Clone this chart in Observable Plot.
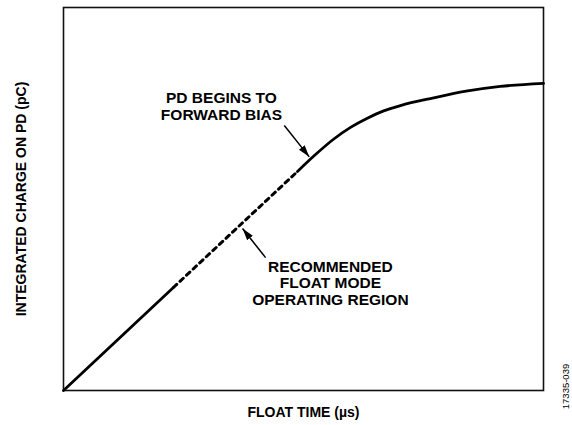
<!DOCTYPE html>
<html>
<head>
<meta charset="utf-8">
<script src="https://cdn.jsdelivr.net/npm/d3@7"></script>
<script src="https://cdn.jsdelivr.net/npm/@observablehq/plot@0.6"></script>
<style>
  body { margin: 0; background: #fff; }
  #chart svg { display: block; }
</style>
</head>
<body>
<div id="chart"></div>
<script>
// ---- data (arbitrary units, 0–100 on both axes; the chart has no tick values) ----
const floatTimeSolidLow = [0, 22.9];
const chargeSolidLow    = [0, 26.9];

const floatTimeDotted = [22.9, 48.75];
const chargeDotted    = [26.9, 57.2];

const floatTimeCurve = [48.75, 52.5, 56.25, 59.8, 63.3, 66.7, 70.2, 77.1, 84.2, 91.0, 100];
const chargeCurve    = [57.2, 61.6, 65.6, 68.7, 71.1, 73.0, 74.4, 76.4, 78.2, 79.4, 80.2];

const annotationText = ["PD BEGINS TO\nFORWARD BIAS", "RECOMMENDED\nFLOAT MODE\nOPERATING REGION"];
const annotationX    = [32.9, 55.6];
const annotationY    = [74.2, 28.1];

const arrowFromX = [46.0, 42.1];
const arrowFromY = [69.2, 34.7];
const arrowToX   = [51.2, 37.3];
const arrowToY   = [61.0, 42.3];

const xLabel = "FLOAT TIME (µs)";
const yLabel = "INTEGRATED CHARGE ON PD (pC)";
const figureId = "17335-039";

// ---- tables built from the arrays ----
const zipXY = (xs, ys) => xs.map((x, i) => ({x, y: ys[i]}));
const solidLow = zipXY(floatTimeSolidLow, chargeSolidLow);
const dotted = zipXY(floatTimeDotted, chargeDotted);
const curve = zipXY(floatTimeCurve, chargeCurve);
const annotations = annotationText.map((t, i) => ({t, x: annotationX[i], y: annotationY[i]}));
const arrows = arrowFromX.map((_, i) => ({x1: arrowFromX[i], y1: arrowFromY[i], x2: arrowToX[i], y2: arrowToY[i]}));

const font = "'Liberation Sans', Arial, Helvetica, sans-serif";

const chart = Plot.plot({
  width: 572,
  height: 425,
  marginLeft: 63,
  marginRight: 29,
  marginTop: 7,
  marginBottom: 35,
  style: {fontFamily: font, background: "#fff", color: "#000"},
  x: {domain: [0, 100], axis: null},
  y: {domain: [0, 100], axis: null},
  marks: [
    Plot.frame({stroke: "#111", strokeWidth: 1.6}),
    Plot.line(solidLow, {x: "x", y: "y", stroke: "#000", strokeWidth: 2.8}),
    Plot.line(dotted, {x: "x", y: "y", stroke: "#000", strokeWidth: 3, strokeDasharray: "4.5,4.5"}),
    Plot.line(curve, {x: "x", y: "y", stroke: "#000", strokeWidth: 2.8, curve: "monotone-x"}),
    Plot.link(arrows, {x1: "x1", y1: "y1", x2: "x2", y2: "y2", stroke: "#000", strokeWidth: 1.5, markerEnd: "arrow"}),
    Plot.text(annotations, {x: "x", y: "y", text: "t", fontSize: 15.5, fontWeight: "bold", lineHeight: 1.08, textAnchor: "middle", fill: "#000"}),
    Plot.text([xLabel], {frameAnchor: "bottom", dy: 26, text: d => d, fontSize: 14, fontWeight: "bold", textAnchor: "middle", fill: "#000"}),
    Plot.text([yLabel], {frameAnchor: "left", dx: -42, rotate: -90, text: d => d, fontSize: 14, fontWeight: "bold", textAnchor: "middle", fill: "#000"}),
    Plot.text([figureId], {frameAnchor: "bottom-right", dx: 25, dy: -4, rotate: -90, text: d => d, fontSize: 9.5, textAnchor: "middle", fill: "#000"})
  ]
});

// filled triangular arrowheads
d3.select(chart).selectAll("marker")
  .attr("markerUnits", "userSpaceOnUse")
  .attr("viewBox", "-12 -5 13 10")
  .attr("markerWidth", 13)
  .attr("markerHeight", 10)
  .attr("fill", "#000")
  .attr("stroke", "none")
  .selectAll("path")
  .attr("d", "M-12,-3.6L0,0L-12,3.6Z");

document.getElementById("chart").append(chart);
</script>
</body>
</html>
